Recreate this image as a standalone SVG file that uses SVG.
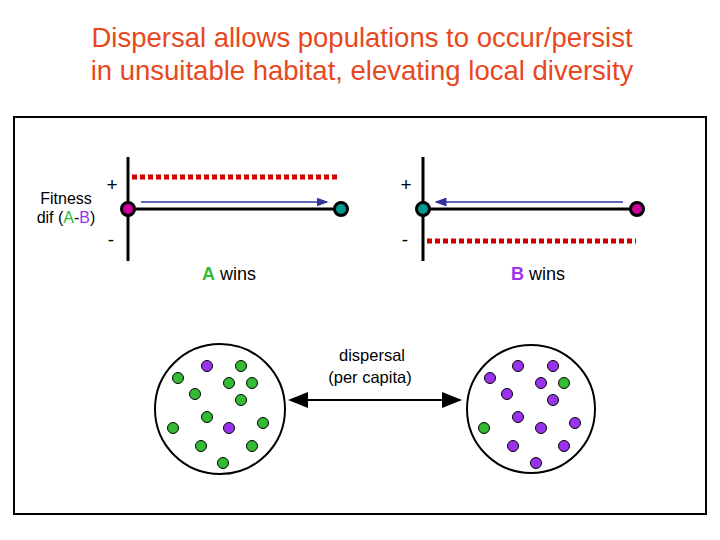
<svg xmlns="http://www.w3.org/2000/svg" width="720" height="540" viewBox="0 0 720 540">
<defs>
<marker id="ah" markerWidth="8" markerHeight="6" refX="7" refY="3" orient="auto"><path d="M0,0 L8,3 L0,6 z" fill="#333399"/></marker>
<marker id="ah2" markerWidth="10" markerHeight="8" refX="9" refY="4" orient="auto-start-reverse"><path d="M0,0 L10,4 L0,8 z" fill="#000"/></marker>
<style>
text{font-family:"Liberation Sans",Arial,sans-serif}
.ax{stroke:#000;stroke-width:3}
.red{stroke:#d40000;stroke-width:5;stroke-dasharray:5,3}
.blu{stroke:#333399;stroke-width:1.5}
.g{fill:#33bb33;stroke:#000;stroke-width:1}
.p{fill:#9933ee;stroke:#000;stroke-width:1}
</style>
</defs>
<rect width="720" height="540" fill="#fff"/>
<text x="362" y="47" font-size="27.5" fill="#e8481c" text-anchor="middle">Dispersal allows populations to occur/persist</text>
<text x="362" y="80" font-size="27.5" fill="#e8481c" text-anchor="middle">in unsuitable habitat, elevating local diversity</text>
<rect x="14" y="117" width="692" height="397" fill="none" stroke="#000" stroke-width="2"/>
<g id="left-panel">
<line class="ax" x1="128" y1="157" x2="128" y2="261"/>
<line class="red" x1="132" y1="177" x2="340" y2="177"/>
<line class="ax" x1="128" y1="209" x2="341" y2="209"/>
<line class="blu" x1="141" y1="202" x2="327" y2="202" marker-end="url(#ah)"/>
<circle cx="128" cy="209" r="6.5" fill="#cc0099" stroke="#000" stroke-width="3"/>
<circle cx="341" cy="209" r="6.5" fill="#00998f" stroke="#000" stroke-width="3"/>
<text x="112" y="191" font-size="19" text-anchor="middle">+</text>
<text x="111" y="246" font-size="19" text-anchor="middle">-</text>
<text x="66" y="204" font-size="16" text-anchor="middle">Fitness</text>
<text x="66" y="223" font-size="16" text-anchor="middle">dif (<tspan fill="#33bb33">A</tspan>-<tspan fill="#9933ee">B</tspan>)</text>
<text x="229" y="280" font-size="18" text-anchor="middle"><tspan fill="#33bb33" font-weight="bold">A</tspan> wins</text>
</g>
<g id="right-panel">
<line class="ax" x1="423" y1="157" x2="423" y2="261"/>
<line class="red" x1="427" y1="241" x2="636" y2="241"/>
<line class="ax" x1="423" y1="209" x2="637" y2="209"/>
<line class="blu" x1="623" y1="202" x2="436" y2="202" marker-end="url(#ah)"/>
<circle cx="423" cy="209" r="6.5" fill="#00998f" stroke="#000" stroke-width="3"/>
<circle cx="637" cy="209" r="6.5" fill="#cc0099" stroke="#000" stroke-width="3"/>
<text x="406" y="191" font-size="19" text-anchor="middle">+</text>
<text x="405" y="246" font-size="19" text-anchor="middle">-</text>
<text x="538" y="280" font-size="18" text-anchor="middle"><tspan fill="#9933ee" font-weight="bold">B</tspan> wins</text>
</g>
<g id="patch-A">
<circle cx="220" cy="409" r="65" fill="none" stroke="#000" stroke-width="2"/>
<circle class="p" cx="207" cy="366" r="5.5"/><circle class="g" cx="241" cy="366" r="5.5"/>
<circle class="g" cx="178" cy="378" r="5.5"/><circle class="g" cx="229" cy="383" r="5.5"/>
<circle class="g" cx="252" cy="383" r="5.5"/><circle class="g" cx="195" cy="394" r="5.5"/>
<circle class="g" cx="241" cy="400" r="5.5"/><circle class="g" cx="207" cy="417" r="5.5"/>
<circle class="g" cx="263" cy="423" r="5.5"/><circle class="g" cx="173" cy="428" r="5.5"/>
<circle class="p" cx="229" cy="428" r="5.5"/><circle class="g" cx="201" cy="446" r="5.5"/>
<circle class="g" cx="252" cy="446" r="5.5"/><circle class="g" cx="223" cy="463" r="5.5"/>
</g>
<g id="patch-B">
<circle cx="531" cy="409" r="64" fill="none" stroke="#000" stroke-width="2"/>
<circle class="p" cx="518" cy="366" r="5.5"/><circle class="p" cx="553" cy="366" r="5.5"/>
<circle class="p" cx="490" cy="378" r="5.5"/><circle class="p" cx="541" cy="383" r="5.5"/>
<circle class="g" cx="564" cy="383" r="5.5"/><circle class="p" cx="507" cy="394" r="5.5"/>
<circle class="p" cx="553" cy="400" r="5.5"/><circle class="p" cx="518" cy="417" r="5.5"/>
<circle class="p" cx="575" cy="423" r="5.5"/><circle class="g" cx="484" cy="428" r="5.5"/>
<circle class="p" cx="541" cy="428" r="5.5"/><circle class="p" cx="513" cy="446" r="5.5"/>
<circle class="p" cx="564" cy="446" r="5.5"/><circle class="p" cx="536" cy="463" r="5.5"/>
</g>
<g id="connectors">
<line x1="290" y1="400" x2="460" y2="400" stroke="#000" stroke-width="2" marker-start="url(#ah2)" marker-end="url(#ah2)"/>
</g>
<text x="372" y="361" font-size="16.5" text-anchor="middle">dispersal</text>
<text x="370" y="383" font-size="16.5" text-anchor="middle">(per capita)</text>
</svg>
